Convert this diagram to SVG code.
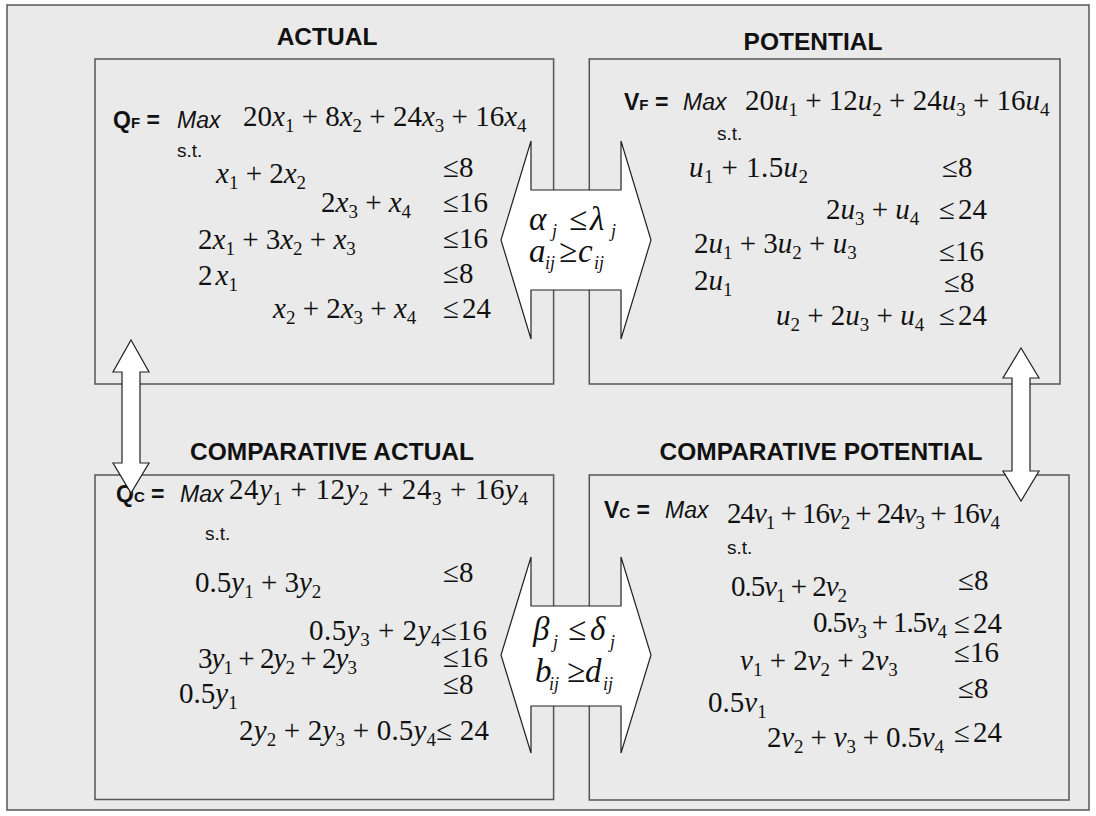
<svg xmlns="http://www.w3.org/2000/svg" width="1096" height="816" viewBox="0 0 1096 816">
<style>
.frame{fill:#eaeaea;stroke:#555;stroke-width:1.5}
.box{fill:none;stroke:#555;stroke-width:1.5}
.arr{fill:#fff;stroke:#222;stroke-width:1.2;stroke-linejoin:miter}
.h{font-family:"Liberation Sans",Arial,sans-serif;font-weight:bold;font-size:24.5px;fill:#111;text-anchor:middle}
.lb{font-family:"Liberation Sans",Arial,sans-serif;font-weight:bold;font-size:23px;fill:#111}
.sm{font-size:15px}
.mx{font-family:"Liberation Sans",Arial,sans-serif;font-style:italic;font-size:23px;fill:#111}
.st{font-family:"Liberation Sans",Arial,sans-serif;font-size:19px;fill:#111}
.m{font-family:"Liberation Serif","Times New Roman",serif;font-size:29px;fill:#111}
.c{font-family:"Liberation Serif","Times New Roman",serif;font-size:33px;fill:#111}
.ci{font-size:18px;font-style:italic}
.v{font-style:italic}
.s{font-size:19px;font-style:normal}
</style>
<rect class="frame" x="7" y="5" width="1082" height="805"/>

<g id="actual">
<text class="h" x="327" y="45">ACTUAL</text>
<rect class="box" x="95" y="59" width="458.6" height="325"/>
<text class="lb" x="113" y="128">Q<tspan class="sm">F</tspan> =</text>
<text class="mx" x="177" y="128">Max</text>
<text class="m" x="243" y="126">20<tspan class="v">x</tspan><tspan class="s" dy="6">1</tspan><tspan dy="-6"> + 8</tspan><tspan class="v">x</tspan><tspan class="s" dy="6">2</tspan><tspan dy="-6"> + 24</tspan><tspan class="v">x</tspan><tspan class="s" dy="6">3</tspan><tspan dy="-6"> + 16</tspan><tspan class="v">x</tspan><tspan class="s" dy="6">4</tspan></text>
<text class="st" x="177" y="157">s.t.</text>
<text class="m" x="216" y="183"><tspan class="v">x</tspan><tspan class="s" dy="6">1</tspan><tspan dy="-6"> + 2</tspan><tspan class="v">x</tspan><tspan class="s" dy="6">2</tspan></text>
<text class="m" x="443" y="177">≤8</text>
<text class="m" x="321" y="212">2<tspan class="v">x</tspan><tspan class="s" dy="6">3</tspan><tspan dy="-6"> + </tspan><tspan class="v">x</tspan><tspan class="s" dy="6">4</tspan></text>
<text class="m" x="443" y="212">≤16</text>
<text class="m" x="198" y="249">2<tspan class="v">x</tspan><tspan class="s" dy="6">1</tspan><tspan dy="-6"> + 3</tspan><tspan class="v">x</tspan><tspan class="s" dy="6">2</tspan><tspan dy="-6"> + </tspan><tspan class="v">x</tspan><tspan class="s" dy="6">3</tspan></text>
<text class="m" x="443" y="248">≤16</text>
<text class="m" x="198" y="285">2<tspan class="v" dx="3">x</tspan><tspan class="s" dy="6">1</tspan></text>
<text class="m" x="443" y="283">≤8</text>
<text class="m" x="273" y="318"><tspan class="v">x</tspan><tspan class="s" dy="6">2</tspan><tspan dy="-6"> + 2</tspan><tspan class="v">x</tspan><tspan class="s" dy="6">3</tspan><tspan dy="-6"> + </tspan><tspan class="v">x</tspan><tspan class="s" dy="6">4</tspan></text>
<text class="m" x="443" y="318">≤<tspan dx="3">24</tspan></text>
</g>

<g id="potential">
<text class="h" x="813" y="50">POTENTIAL</text>
<rect class="box" x="589.3" y="59" width="470.7" height="325"/>
<text class="lb" x="624" y="110">V<tspan class="sm">F</tspan> =</text>
<text class="mx" x="683" y="110">Max</text>
<text class="m" x="745" y="110">20<tspan class="v">u</tspan><tspan class="s" dy="6">1</tspan><tspan dy="-6"> + 12</tspan><tspan class="v">u</tspan><tspan class="s" dy="6">2</tspan><tspan dy="-6"> + 24</tspan><tspan class="v">u</tspan><tspan class="s" dy="6">3</tspan><tspan dy="-6"> + 16</tspan><tspan class="v">u</tspan><tspan class="s" dy="6">4</tspan></text>
<text class="st" x="717" y="140">s.t.</text>
<text class="m" x="689" y="177" textLength="119" lengthAdjust="spacing"><tspan class="v">u</tspan><tspan class="s" dy="6">1</tspan><tspan dy="-6"> + 1.5</tspan><tspan class="v">u</tspan><tspan class="s" dy="6">2</tspan></text>
<text class="m" x="942" y="177">≤8</text>
<text class="m" x="826" y="219">2<tspan class="v">u</tspan><tspan class="s" dy="6">3</tspan><tspan dy="-6"> + </tspan><tspan class="v">u</tspan><tspan class="s" dy="6">4</tspan></text>
<text class="m" x="939" y="219">≤<tspan dx="3">24</tspan></text>
<text class="m" x="694" y="253">2<tspan class="v">u</tspan><tspan class="s" dy="6">1</tspan><tspan dy="-6"> + 3</tspan><tspan class="v">u</tspan><tspan class="s" dy="6">2</tspan><tspan dy="-6"> + </tspan><tspan class="v">u</tspan><tspan class="s" dy="6">3</tspan></text>
<text class="m" x="939" y="261">≤16</text>
<text class="m" x="694" y="290">2<tspan class="v">u</tspan><tspan class="s" dy="6">1</tspan></text>
<text class="m" x="944" y="292">≤8</text>
<text class="m" x="776" y="325"><tspan class="v">u</tspan><tspan class="s" dy="6">2</tspan><tspan dy="-6"> + 2</tspan><tspan class="v">u</tspan><tspan class="s" dy="6">3</tspan><tspan dy="-6"> + </tspan><tspan class="v">u</tspan><tspan class="s" dy="6">4</tspan></text>
<text class="m" x="939" y="325">≤<tspan dx="3">24</tspan></text>
</g>

<g id="comparative-actual">
<text class="h" x="332" y="460">COMPARATIVE ACTUAL</text>
<rect class="box" x="95" y="475" width="458.6" height="324.5"/>
<text class="lb" x="116" y="502">Q<tspan class="sm">C</tspan> =</text>
<text class="mx" x="180" y="502">Max</text>
<text class="m" x="229" y="499" textLength="299" lengthAdjust="spacing">24<tspan class="v">y</tspan><tspan class="s" dy="6">1</tspan><tspan dy="-6"> + 12</tspan><tspan class="v">y</tspan><tspan class="s" dy="6">2</tspan><tspan dy="-6"> + 24</tspan><tspan class="s" dy="6">3</tspan><tspan dy="-6"> + 16</tspan><tspan class="v">y</tspan><tspan class="s" dy="6">4</tspan></text>
<text class="st" x="205" y="540">s.t.</text>
<text class="m" x="195" y="592">0.5<tspan class="v">y</tspan><tspan class="s" dy="6">1</tspan><tspan dy="-6"> + 3</tspan><tspan class="v">y</tspan><tspan class="s" dy="6">2</tspan></text>
<text class="m" x="443" y="582">≤8</text>
<text class="m" x="309" y="640" textLength="178" lengthAdjust="spacing">0.5<tspan class="v">y</tspan><tspan class="s" dy="6">3</tspan><tspan dy="-6"> + 2</tspan><tspan class="v">y</tspan><tspan class="s" dy="6">4</tspan><tspan dy="-6">≤16</tspan></text>
<text class="m" x="198" y="668" textLength="159" lengthAdjust="spacing">3<tspan class="v">y</tspan><tspan class="s" dy="6">1</tspan><tspan dy="-6"> + 2</tspan><tspan class="v">y</tspan><tspan class="s" dy="6">2</tspan><tspan dy="-6"> + 2</tspan><tspan class="v">y</tspan><tspan class="s" dy="6">3</tspan></text>
<text class="m" x="443" y="667">≤16</text>
<text class="m" x="179" y="703">0.5<tspan class="v">y</tspan><tspan class="s" dy="6">1</tspan></text>
<text class="m" x="443" y="694">≤8</text>
<text class="m" x="239" y="740" textLength="250" lengthAdjust="spacing">2<tspan class="v">y</tspan><tspan class="s" dy="6">2</tspan><tspan dy="-6"> + 2</tspan><tspan class="v">y</tspan><tspan class="s" dy="6">3</tspan><tspan dy="-6"> + 0.5</tspan><tspan class="v">y</tspan><tspan class="s" dy="6">4</tspan><tspan dy="-6">≤ 24</tspan></text>
</g>

<g id="comparative-potential">
<text class="h" x="821" y="460">COMPARATIVE POTENTIAL</text>
<rect class="box" x="589.3" y="475" width="479.7" height="325"/>
<text class="lb" x="604" y="518">V<tspan class="sm">C</tspan> =</text>
<text class="mx" x="665" y="518">Max</text>
<text class="m" x="727" y="523" textLength="273" lengthAdjust="spacing">24<tspan class="v">v</tspan><tspan class="s" dy="6">1</tspan><tspan dy="-6"> + 16</tspan><tspan class="v">v</tspan><tspan class="s" dy="6">2</tspan><tspan dy="-6"> + 24</tspan><tspan class="v">v</tspan><tspan class="s" dy="6">3</tspan><tspan dy="-6"> + 16</tspan><tspan class="v">v</tspan><tspan class="s" dy="6">4</tspan></text>
<text class="st" x="727" y="554">s.t.</text>
<text class="m" x="731" y="596" textLength="116" lengthAdjust="spacing">0.5<tspan class="v">v</tspan><tspan class="s" dy="6">1</tspan><tspan dy="-6"> + 2</tspan><tspan class="v">v</tspan><tspan class="s" dy="6">2</tspan></text>
<text class="m" x="958" y="590">≤8</text>
<text class="m" x="813" y="632" textLength="134" lengthAdjust="spacing">0.5<tspan class="v">v</tspan><tspan class="s" dy="6">3</tspan><tspan dy="-6"> + 1.5</tspan><tspan class="v">v</tspan><tspan class="s" dy="6">4</tspan></text>
<text class="m" x="954" y="633">≤<tspan dx="3">24</tspan></text>
<text class="m" x="740" y="670"><tspan class="v">v</tspan><tspan class="s" dy="6">1</tspan><tspan dy="-6"> + 2</tspan><tspan class="v">v</tspan><tspan class="s" dy="6">2</tspan><tspan dy="-6"> + 2</tspan><tspan class="v">v</tspan><tspan class="s" dy="6">3</tspan></text>
<text class="m" x="954" y="662">≤16</text>
<text class="m" x="708" y="712">0.5<tspan class="v">v</tspan><tspan class="s" dy="6">1</tspan></text>
<text class="m" x="958" y="698">≤8</text>
<text class="m" x="767" y="747" textLength="177" lengthAdjust="spacing">2<tspan class="v">v</tspan><tspan class="s" dy="6">2</tspan><tspan dy="-6"> + </tspan><tspan class="v">v</tspan><tspan class="s" dy="6">3</tspan><tspan dy="-6"> + 0.5</tspan><tspan class="v">v</tspan><tspan class="s" dy="6">4</tspan></text>
<text class="m" x="954" y="742">≤<tspan dx="3">24</tspan></text>
</g>

<g id="connectors">
<polygon class="arr" points="531,141 531,190 621,190 621,141 651,240 621,339 621,290 531,290 531,339 501,240"/>
<polygon class="arr" points="531,557 531,606 621,606 621,557 651,655 621,753 621,706 531,706 531,753 501,655"/>
<polygon class="arr" points="131,340 149,372 140,372 140,463 149,463 131,493 113,463 122,463 122,372 113,372"/>
<polygon class="arr" points="1021,348 1039,378 1030,378 1030,471 1039,471 1021,501 1003,471 1012,471 1012,378 1003,378"/>
</g>

<g id="relation-top">
<text class="c" x="529" y="230"><tspan class="v">α</tspan><tspan class="ci" x="552" y="237">j</tspan><tspan x="569" y="230">≤</tspan><tspan class="v" x="590">λ</tspan><tspan class="ci" x="611" y="237">j</tspan></text>
<text class="c" x="529" y="262"><tspan class="v">a</tspan><tspan class="ci" x="545" y="269">ij</tspan><tspan x="559" y="262">≥</tspan><tspan class="v" x="578">c</tspan><tspan class="ci" x="594" y="269">ij</tspan></text>
</g>
<g id="relation-bottom">
<text class="c" x="533" y="640"><tspan class="v">β</tspan><tspan class="ci" x="553" y="648">j</tspan><tspan x="568" y="640">≤</tspan><tspan class="v" x="590">δ</tspan><tspan class="ci" x="610" y="648">j</tspan></text>
<text class="c" x="535" y="682"><tspan class="v">b</tspan><tspan class="ci" x="549" y="690">ij</tspan><tspan x="567" y="682">≥</tspan><tspan class="v" x="585">d</tspan><tspan class="ci" x="603" y="690">ij</tspan></text>
</g>
</svg>
